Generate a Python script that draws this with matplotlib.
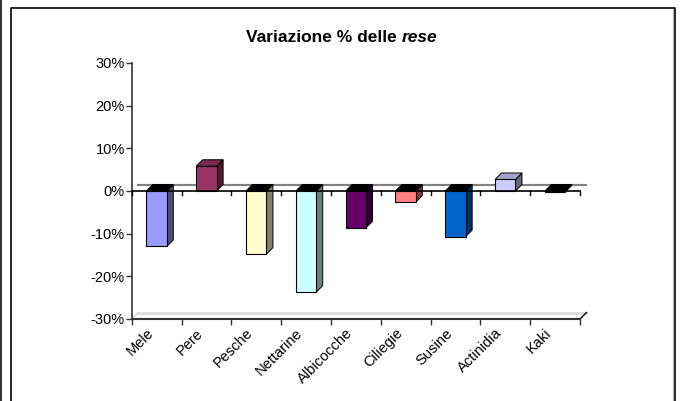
import numpy as np
import matplotlib
matplotlib.use('Agg')
import matplotlib.pyplot as plt
from matplotlib.patches import Polygon, Rectangle
import matplotlib.colors as mcolors

matplotlib.rcParams['font.family'] = 'Liberation Sans'

# data
categories = ['Mele', 'Pere', 'Pesche', 'Nettarine', 'Albicocche', 'Ciliegie', 'Susine', 'Actinidia', 'Kaki']
variazione = [-13.0, 5.8, -14.8, -23.7, -8.6, -2.6, -10.7, 2.7, -0.2]
colori = ['#9999FF', '#993366', '#FFFFCC', '#CCFFFF', '#660066', '#FF8080', '#0066CC', '#CCCCFF', '#000080']
yticks = [-30, -20, -10, 0, 10, 20, 30]


def shade(c, f):
    r, g, b = mcolors.to_rgb(c)
    return (r * f, g * f, b * f)


W, H = 683, 401
fig = plt.figure(figsize=(W / 100, H / 100), dpi=100)

# outer frame
fig.add_artist(plt.Line2D([0.6 / W, 0.6 / W], [0, 1], color='#333333', lw=1.5))
fig.add_artist(plt.Line2D([10.5 / W, 10.5 / W, 674.5 / W, 674.5 / W],
                          [0, 1 - 7.5 / H, 1 - 7.5 / H, 0], color='black', lw=1.2))
fig.add_artist(plt.Line2D([672.8 / W, 672.8 / W], [0, 1 - 8.5 / H], color='#b0b0b0', lw=0.8))

x0, x1 = 131.7, 580.0
ytop, ybot = 63.0, 319.0
ax = fig.add_axes([x0 / W, 1 - ybot / H, (x1 - x0) / W, (ybot - ytop) / H])
ax.set_xlim(0, len(categories))
ax.set_ylim(-30, 30)

# depth of the 3D effect (6.5 px)
dx = 6.5 / 50.0
dy = 6.5 / ((ybot - ytop) / 60.0)
bw = 0.41

ax.set_facecolor('none')
for s in ['top', 'right']:
    ax.spines[s].set_visible(False)
ax.spines['left'].set_color('#333333')
ax.spines['bottom'].set_color('#333333')
ax.spines['left'].set_linewidth(1.2)
ax.spines['bottom'].set_linewidth(1.5)
ax.set_yticks(yticks)
ax.set_yticklabels([f'{t}%' for t in yticks], fontsize=10.5)
ax.set_xticks(np.arange(len(categories) + 1))
ax.set_xticklabels([])
ax.tick_params(axis='y', direction='out', length=4, width=1, color='#333333', pad=1)
ax.tick_params(axis='x', direction='out', length=4, width=1, color='#333333')

# floor back edge and side lines
n = len(categories)
ax.plot([dx, n + dx], [-30 + dy, -30 + dy], color='#dddddd', lw=2, clip_on=False, zorder=1)
ax.plot([0, dx], [-30, -30 + dy], color='#cccccc', lw=0.8, clip_on=False, zorder=1)
ax.plot([n, n + dx], [-30, -30 + dy], color='black', lw=1, clip_on=False, zorder=1)

# back zero line
ax.plot([dx, n + dx], [dy, dy], color='#808080', lw=1.5, clip_on=False, zorder=1)

for i, (v, c) in enumerate(zip(variazione, colori)):
    xa = i + 0.5 - bw / 2
    xb = i + 0.5 + bw / 2
    top = max(v, 0)
    side = Polygon([(xb, 0), (xb + dx, dy), (xb + dx, v + dy), (xb, v)],
                   closed=True, facecolor=shade(c, 0.5), edgecolor='black', lw=0.7, zorder=3)
    ax.add_patch(side)
    topc = shade(c, 0.8) if v > 0 else 'black'
    tp = Polygon([(xa, top), (xa + dx, top + dy), (xb + dx, top + dy), (xb, top)],
                 closed=True, facecolor=topc, edgecolor='black', lw=0.7, zorder=3)
    ax.add_patch(tp)
    ax.add_patch(Rectangle((xa, min(v, 0)), bw, abs(v), facecolor=c,
                           edgecolor='black', lw=0.8, zorder=4))

# zero axis with ticks
ax.plot([0, n], [0, 0], color='black', lw=1.2, zorder=5, clip_on=False)
for k in range(n + 1):
    ax.plot([k, k], [0, -0.9], color='black', lw=1, zorder=5, clip_on=False)

# category labels
for i, name in enumerate(categories):
    ax.annotate(name, xy=(i + 0.5, -30), xytext=(-7.5, -5), textcoords='offset points',
                rotation=45, ha='right', va='top', rotation_mode='anchor', fontsize=10.5)

# title: bold with the last word in bold italic
t1 = fig.text(0.5, 1 - 37 / H, 'Variazione % delle ', fontsize=12.5, fontweight='bold', ha='left', va='center')
t2 = fig.text(0.5, 1 - 37 / H, 'rese', fontsize=12.5, fontweight='bold', fontstyle='italic', ha='left', va='center')
fig.canvas.draw()
r = fig.canvas.get_renderer()
w1 = t1.get_window_extent(r).width
w2 = t2.get_window_extent(r).width
left = 341.5 - (w1 + w2) / 2
t1.set_x(left / W)
t2.set_x((left + w1) / W)

fig.savefig('out.png', dpi=100)
